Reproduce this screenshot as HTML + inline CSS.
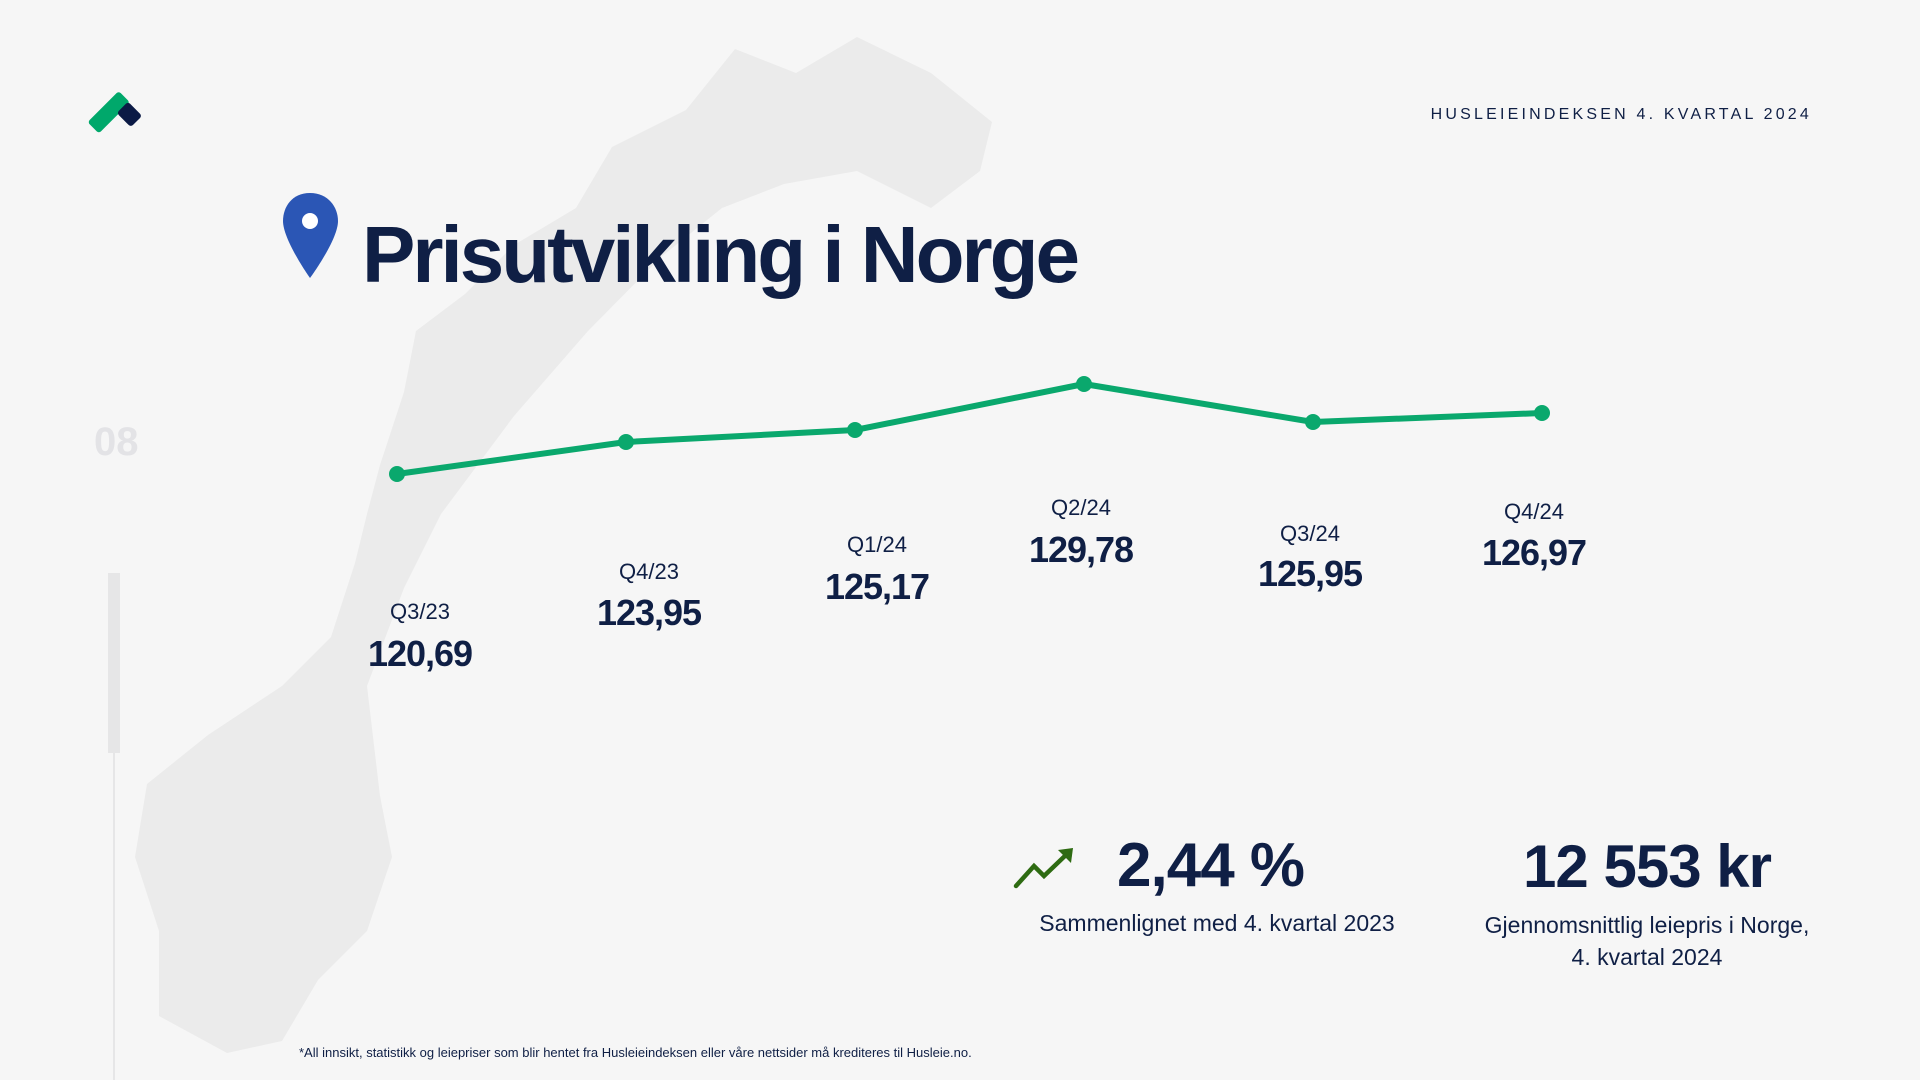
<!DOCTYPE html>
<html><head><meta charset="utf-8"><style>
html,body{margin:0;padding:0}
body{width:1920px;height:1080px;background:#f6f6f6;position:relative;overflow:hidden;font-family:"Liberation Sans",sans-serif;color:#0f1f45}
.a{position:absolute;white-space:nowrap}
.q{font-size:22px;transform:translateX(-50%)}
.v{font-size:36px;font-weight:bold;transform:translateX(-50%);letter-spacing:-1px}
</style></head><body>
<svg class="a" style="left:0;top:0" width="1920" height="1080">
<polygon fill="#ebebeb" points="159,1016 227,1053 282,1041 318,980 367,931 392,857 380,796 367,686 404,588 441,514 514,416 588,331 661,257 722,208 784,184 857,171 931,208 980,171 992,122 931,73 857,37 796,73 735,49 686,110 612,147 576,208 514,245 465,294 416,331 404,392 380,465 367,514 355,563 331,637 282,686 208,735 147,784 135,857 159,931"/>
<rect x="108" y="573" width="12" height="180" fill="#e6e6e7"/>
<line x1="114" y1="753" x2="114" y2="1080" stroke="#e6e6e7" stroke-width="2"/>
<g transform="translate(113,108)">
<rect x="-28" y="-8" width="44" height="16" rx="3" fill="#00a86b" transform="rotate(-45) translate(0,0)"/>
</g>
<g transform="translate(128,113)"><rect x="-8" y="-8" width="20" height="16" rx="3" fill="#0b1a45" transform="rotate(45)"/></g>
<path d="M310,193 C292,193 283,207 283,221 C283,240 310,278 310,278 C310,278 338,240 338,221 C338,207 328,193 310,193 Z" fill="#2b56b5"/>
<circle cx="310" cy="221" r="8" fill="#fff"/>
<polyline fill="none" stroke="#0aa86d" stroke-width="6" stroke-linejoin="round" points="397,474 626,442 855,430 1084,384 1313,422 1542,413"/>
<g fill="#0aa86d"><circle cx="397" cy="474" r="8"/><circle cx="626" cy="442" r="8"/><circle cx="855" cy="430" r="8"/><circle cx="1084" cy="384" r="8"/><circle cx="1313" cy="422" r="8"/><circle cx="1542" cy="413" r="8"/></g>
<polyline fill="none" stroke="#2e6b12" stroke-width="4.5" stroke-linecap="round" points="1016,886 1034,866 1044,876 1068,853"/>
<polygon fill="#2e6b12" points="1058,850 1073,848 1071,863"/>
</svg>
<div class="a" style="right:108px;top:106px;font-size:16px;letter-spacing:3.2px">HUSLEIEINDEKSEN 4. KVARTAL 2024</div>
<div class="a" style="left:362px;top:215px;font-size:80px;font-weight:bold;letter-spacing:-3px;line-height:1">Prisutvikling i Norge</div>
<div class="a" style="left:94px;top:420px;font-size:40px;font-weight:bold;color:#e3e3e6">08</div>
<div class="a q" style="left:420px;top:599px">Q3/23</div><div class="a v" style="left:420px;top:633px">120,69</div>
<div class="a q" style="left:649px;top:559px">Q4/23</div><div class="a v" style="left:649px;top:592px">123,95</div>
<div class="a q" style="left:877px;top:532px">Q1/24</div><div class="a v" style="left:877px;top:566px">125,17</div>
<div class="a q" style="left:1081px;top:495px">Q2/24</div><div class="a v" style="left:1081px;top:529px">129,78</div>
<div class="a q" style="left:1310px;top:521px">Q3/24</div><div class="a v" style="left:1310px;top:553px">125,95</div>
<div class="a q" style="left:1534px;top:499px">Q4/24</div><div class="a v" style="left:1534px;top:532px">126,97</div>
<div class="a" style="left:1117px;top:830px;font-size:62px;font-weight:bold;letter-spacing:-1px">2,44 %</div>
<div class="a" style="left:1217px;top:910px;font-size:23px;transform:translateX(-50%)">Sammenlignet med 4. kvartal 2023</div>
<div class="a" style="left:1647px;top:832px;font-size:60px;font-weight:bold;letter-spacing:-1px;transform:translateX(-50%)">12 553 kr</div>
<div class="a" style="left:1647px;top:909px;font-size:23px;transform:translateX(-50%);text-align:center;line-height:32px">Gjennomsnittlig leiepris i Norge,<br>4. kvartal 2024</div>
<div class="a" style="left:299px;top:1045px;font-size:13px">*All innsikt, statistikk og leiepriser som blir hentet fra Husleieindeksen eller våre nettsider må krediteres til Husleie.no.</div>
</body></html>
